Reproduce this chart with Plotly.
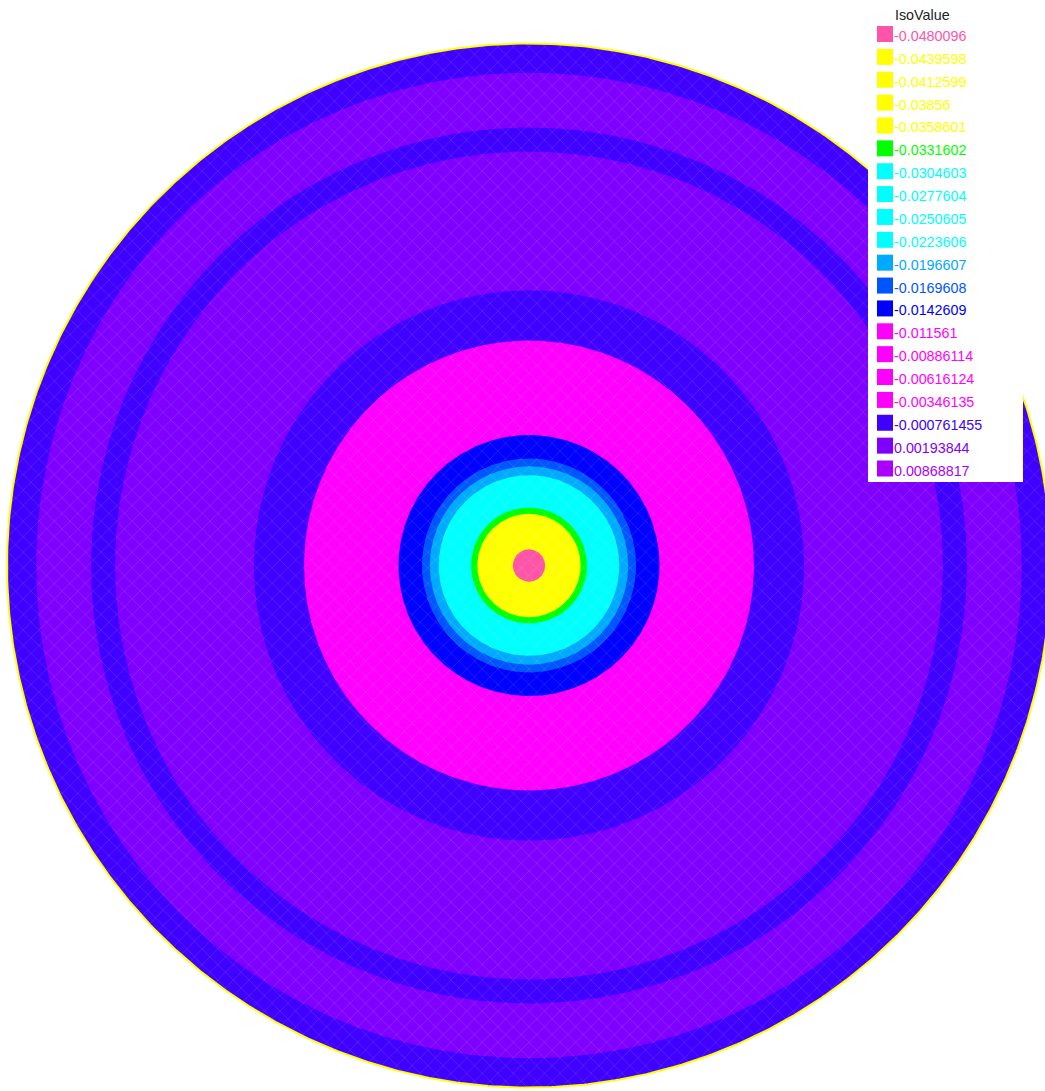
import numpy as np
import plotly.graph_objects as go

# ---- data ----
iso_labels = ["-0.0480096", "-0.0439598", "-0.0412599", "-0.03856", "-0.0358601",
              "-0.0331602", "-0.0304603", "-0.0277604", "-0.0250605", "-0.0223606",
              "-0.0196607", "-0.0169608", "-0.0142609", "-0.011561", "-0.00886114",
              "-0.00616124", "-0.00346135", "-0.000761455", "0.00193844", "0.00868817"]
iso_values = [float(s) for s in iso_labels]
iso_colors = ["#ff55a8", "#ffff00", "#ffff00", "#ffff00", "#ffff00",
              "#00ff00", "#00ffff", "#00ffff", "#00ffff", "#00ffff",
              "#00aaff", "#0055ff", "#0000ff", "#ff00ff", "#ff00ff",
              "#ff00ff", "#ff00ff", "#3f00ff", "#7f00ff", "#aa00ff"]

# concentric bands (outer radius, unit disk) from outside to inside, with iso index
band_outer_radius = [1.000, 0.944, 0.839, 0.793, 0.527, 0.431, 0.250, 0.205, 0.190, 0.173, 0.111, 0.099, 0.031]
band_iso_index    = [17,    18,    17,    18,    17,    13,    12,    11,    10,    6,     5,     1,     0]

# ---- figure geometry ----
W, H = 1045, 1091
cx_px, cy_px, r_px = 529.0, 565.5, 522.0

fig = go.Figure()
theta = np.linspace(0, 2 * np.pi, 721)
for r, k in zip(band_outer_radius, band_iso_index):
    col = iso_colors[k]
    fig.add_trace(go.Scatter(
        x=r * np.cos(theta), y=r * np.sin(theta), mode="lines",
        line=dict(width=0, color=col), fill="toself", fillcolor=col,
        fillpattern=dict(shape="x", bgcolor=col, fgcolor="rgba(255,255,255,0.34)",
                         size=11, solidity=0.12),
        hoverinfo="skip", showlegend=False))

# domain boundary (yellow)
fig.add_trace(go.Scatter(x=np.cos(theta), y=np.sin(theta), mode="lines",
                         line=dict(color="#ffff00", width=2), hoverinfo="skip",
                         showlegend=False))

fig.update_xaxes(range=[-cx_px / r_px, (W - cx_px) / r_px], visible=False, fixedrange=True)
fig.update_yaxes(range=[-(H - cy_px) / r_px, cy_px / r_px], visible=False, fixedrange=True)

# ---- manual legend (IsoValue) ----
def px(x):
    return x / W

def py(y):
    return 1 - y / H

shapes = [dict(type="rect", xref="paper", yref="paper", x0=px(868), x1=px(1023),
               y0=py(482), y1=py(0), fillcolor="white", line=dict(width=0), layer="above")]
annotations = [dict(text="IsoValue", xref="paper", yref="paper", x=px(894), y=py(15.5),
                    xanchor="left", yanchor="middle", showarrow=False, borderpad=0,
                    font=dict(family="Arial, Liberation Sans", size=14.3, color="#222222"))]
pitch = (468.5 - 34.0) / (len(iso_labels) - 1)
for i, (lab, col) in enumerate(zip(iso_labels, iso_colors)):
    cy = 34.0 + i * pitch
    shapes.append(dict(type="rect", xref="paper", yref="paper", x0=px(877), x1=px(893),
                       y0=py(cy + 8), y1=py(cy - 8), fillcolor=col, line=dict(width=0),
                       layer="above"))
    annotations.append(dict(text=lab, xref="paper", yref="paper", x=px(893), y=py(cy + 2),
                            xanchor="left", yanchor="middle", showarrow=False, borderpad=0,
                            font=dict(family="Arial, Liberation Sans", size=14.3, color=col)))

fig.update_layout(width=W, height=H, margin=dict(l=0, r=0, t=0, b=0),
                  plot_bgcolor="white", paper_bgcolor="white",
                  shapes=shapes, annotations=annotations, showlegend=False)

fig.write_html("out.html", config={"displayModeBar": False},
               post_script="document.body.style.margin='0px';document.body.style.overflow='hidden';")
